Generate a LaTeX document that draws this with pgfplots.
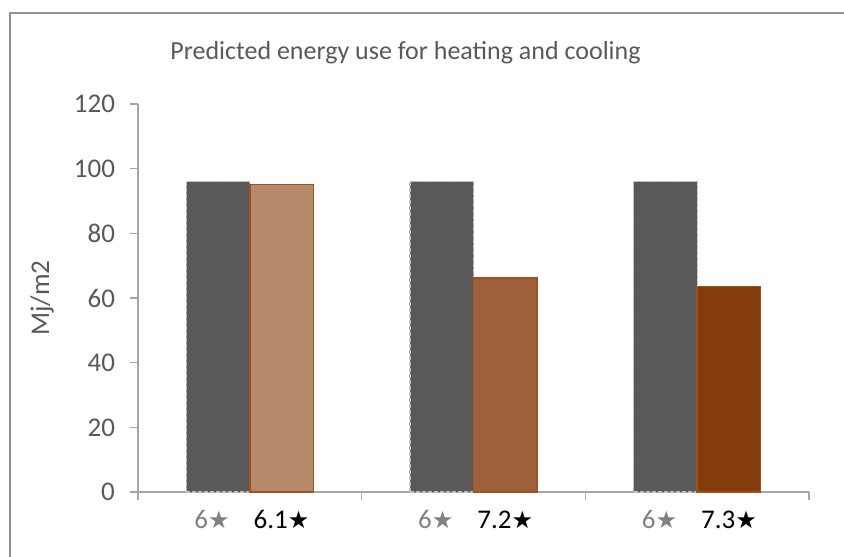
\documentclass[border=0pt]{standalone}
\usepackage{fontspec}
\setmainfont{Carlito}
\newfontfamily\sym{DejaVu Sans}
\usepackage{pgfplots}
\pgfplotsset{compat=1.18}

\definecolor{axisgray}{HTML}{A6A6A6}
\definecolor{txtgray}{HTML}{595959}
\definecolor{lblgray}{HTML}{808080}
\definecolor{darkbar}{HTML}{595959}
\definecolor{barA}{HTML}{B6896B}
\definecolor{barB}{HTML}{9E603A}
\definecolor{barC}{HTML}{843C0C}
\definecolor{barEdge}{HTML}{A0521E}

\newcommand{\st}{{\sym\fontsize{12}{12}\selectfont ★}}
\newcommand{\six}{\textcolor{lblgray}{6\st}\hspace*{6pt}}

\begin{document}
\begin{tikzpicture}
  \useasboundingbox (-69pt,-32pt) rectangle (353pt,246pt);
  % outer frame (left and top edges visible)
  \draw[color=gray!85, line width=1.2pt] (-64pt,-40pt) -- (-64pt,239.5pt) -- (360pt,239.5pt);

  \begin{axis}[
    at={(0,0)}, anchor=south west,
    scale only axis,
    width=335.5pt, height=194pt,
    ybar,
    ymin=0, ymax=120,
    xmin=-0.5, xmax=2.5,
    ytick={0,20,...,120},
    xtick={-0.142,0.142,0.858,1.142,1.858,2.142},
    xticklabels={\six, 6.1\st, \six, 7.2\st, \six, 7.3\st},
    xtick style={draw=none},
    extra x ticks={-0.5,0.5,1.5,2.5},
    extra x tick labels={},
    extra x tick style={xtick style={draw=axisgray, line width=0.6pt}},
    axis x line=bottom, axis y line=left,
    axis line style={draw=axisgray, line width=0.6pt, -},
    ytick style={draw=axisgray, line width=0.6pt},
    tick align=outside,
    major tick length=4pt,
    /pgf/number format/assume math mode=true,
    tick label style={font=\fontsize{13.5}{15}\selectfont, text=txtgray},
    yticklabel style={anchor=east, xshift=-4pt},
    xticklabel style={anchor=base, yshift=-14pt, text=black},
    ylabel={Mj/m2},
    every axis y label/.style={at={(axis description cs:-0.143,0.5)}, rotate=90, anchor=center,
      font=\fontsize{13.5}{15}\selectfont, text=txtgray},
    bar width=31.75pt,
    clip=false,
  ]
    \addplot[bar shift=-15.875pt, fill=darkbar, draw=gray!50, line width=0.6pt, dash pattern=on 2pt off 1pt]
      coordinates {(0,96) (1,96) (2,96)};
    \addplot[bar shift=15.875pt, fill=barA, draw=barEdge, line width=0.7pt]
      coordinates {(0,95.1)};
    \addplot[bar shift=15.875pt, fill=barB, draw=barEdge, line width=0.7pt]
      coordinates {(1,66.2)};
    \addplot[bar shift=15.875pt, fill=barC, draw=barEdge, line width=0.7pt]
      coordinates {(2,63.6)};
  \end{axis}

  \node[anchor=base, text=txtgray, font=\fontsize{13}{16}\selectfont] at (133.75pt,216pt)
    {Predicted energy use for heating and cooling};
\end{tikzpicture}
\end{document}
